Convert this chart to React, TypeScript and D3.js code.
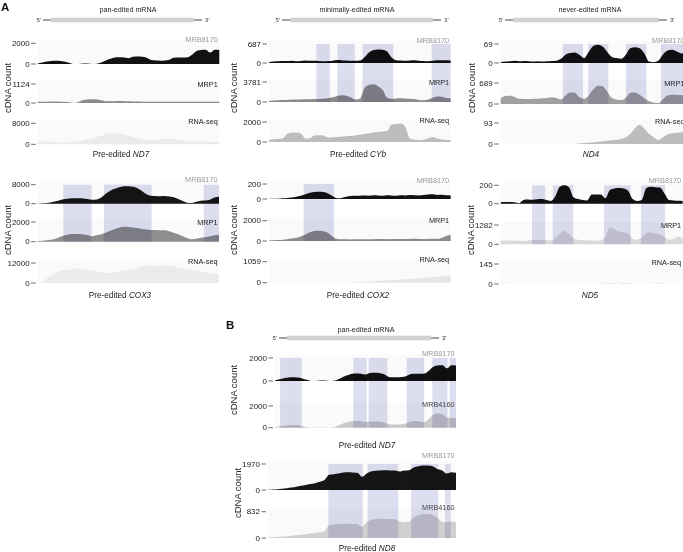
import React from "react";
import * as d3 from "d3";

// sample grid along each transcript, in % of the plotted length
const bins = d3.range(0, 100.01, 2.5);

// ---- read-off coverage values (41 samples each) ----
const nd7_mrb8170 = [50,150,250,300,320,300,220,100,0,0,50,40,0,20,150,350,500,640,650,620,560,690,720,700,600,380,330,320,340,420,600,640,620,650,900,1250,1350,1380,1100,1380,1350];
const nd7_mrp1 = [80,80,80,90,90,80,70,40,0,60,180,210,215,200,160,110,100,110,120,110,100,90,90,80,80,70,70,80,80,70,70,70,70,70,80,80,80,70,70,80,80];
const nd7_rnaseq = [900,1000,1100,1000,900,800,800,900,1000,1200,1500,1900,2300,2800,3300,3800,4100,4200,4100,3800,3300,2800,2300,1900,1600,1500,1600,1800,2000,2100,2000,1800,1500,1300,1200,1100,1100,1000,900,900,900];
const nd7_mrb4160 = [50,120,180,230,250,230,150,40,10,10,10,10,20,50,200,380,520,600,620,600,520,560,580,560,480,350,300,300,320,420,580,620,560,500,800,1200,1300,1250,950,900,870];

const cyb_mrb8170 = [30,50,60,70,70,80,60,70,90,80,80,70,60,70,80,110,100,90,80,80,90,200,380,470,490,480,420,200,100,90,80,90,100,80,70,60,80,95,100,95,90];
const cyb_mrp1 = [250,300,350,380,400,420,450,480,500,520,550,580,620,700,900,1150,1270,1200,900,450,600,2600,3200,3350,3000,2300,800,600,650,700,680,620,550,400,330,450,800,1050,1000,750,650];
const cyb_rnaseq = [250,280,300,350,800,950,950,850,350,380,650,680,650,450,480,500,550,580,600,650,720,800,850,950,1000,1050,1100,1750,1800,1850,1500,350,250,200,220,350,500,350,250,200,200];

const nd4_mrb8170 = [3,5,6,8,6,7,6,5,6,5,6,7,8,15,30,36,38,30,18,40,62,66,60,40,22,18,15,30,54,57,54,35,5,3,8,30,45,48,42,35,34];
const nd4_mrp1 = [180,260,270,230,170,165,160,170,175,185,200,220,200,150,280,380,370,220,170,280,480,600,580,400,200,150,130,200,370,380,300,180,100,50,30,150,280,300,300,290,300];
const nd4_rnaseq = [0,0,0,0,0,0,0,0,0,0,0,0,0,0,0,0,0,2,4,6,8,10,12,14,17,19,22,30,45,70,85,68,45,30,18,30,42,48,50,52,52];

const cox3_mrb8170 = [50,150,300,600,1000,1600,2000,2200,2300,2300,2200,2000,1700,1800,2600,4200,5500,6300,6900,7300,7400,7100,6500,5400,4000,3300,3200,3100,3200,3000,2700,2000,1100,400,300,800,1200,1300,1700,2600,2900];
const cox3_mrp1 = [60,100,150,200,300,500,650,750,770,770,740,680,550,650,750,900,1100,1300,1450,1520,1500,1450,1380,1300,1250,1200,1200,1150,1150,1050,900,750,550,350,250,300,400,450,550,650,700];
const cox3_rnaseq = [0,500,2500,4500,6000,7000,7500,8000,8500,8800,8500,8000,7500,7000,6500,6000,6000,6500,7000,7500,8000,8500,9000,9800,10500,10300,10000,10300,10800,10500,10000,9500,9000,8500,8000,7500,7000,6500,6000,5500,5000];

const cox2_mrb8170 = [0,2,5,10,15,20,30,45,65,85,95,98,92,75,40,10,15,30,40,45,45,48,45,50,48,45,50,48,45,50,48,52,50,48,55,60,62,55,58,50,48];
const cox2_mrp1 = [60,80,100,130,180,250,330,450,650,850,980,1010,950,800,450,200,180,170,160,170,180,170,175,180,190,185,180,190,200,195,190,200,210,200,190,200,220,210,300,500,580];
const cox2_rnaseq = [0,0,0,0,0,0,0,0,0,0,0,0,0,0,0,0,0,0,5,15,30,45,60,75,90,105,120,140,150,165,180,195,210,225,245,260,280,300,320,345,370];

const nd5_mrb8170 = [15,18,18,15,5,40,45,42,48,50,40,30,80,185,200,180,70,50,40,35,100,100,100,60,150,165,170,165,140,50,30,40,170,185,180,175,110,40,35,32,30];
const nd5_mrp1 = [230,250,260,240,230,220,240,280,290,300,280,260,400,700,880,700,400,300,280,260,250,240,260,500,1100,1000,850,780,720,350,300,450,750,780,720,650,480,300,350,500,400];
const nd5_rnaseq = [5,3,0,0,0,0,0,0,0,0,0,0,0,0,0,0,0,0,0,0,0,0,0,4,5,2,0,5,4,0,0,0,0,0,3,4,0,0,0,0,0];

const nd8_mrb8170 = [10,30,60,100,140,190,250,320,380,450,520,620,750,1150,1200,1250,1320,1340,1330,1300,1000,1250,1420,1460,1480,1490,1480,1470,1400,1480,1500,1700,1800,1860,1850,1800,1600,1500,1250,1350,1300];
const nd8_mrb4160 = [10,20,30,45,55,70,85,100,120,140,160,185,210,400,430,440,450,450,445,440,350,500,580,600,610,600,600,590,520,500,520,650,720,760,760,730,650,520,500,520,500];

// highlighted regions, % of plotted length
const cybBands = [[26.1,33.5],[37.7,47.2],[51.5,68.4],[89.5,100]];
const nd4Bands = [[33.5,44.4],[47.2,58.1],[67.6,78.6],[86.5,100]];
const cox3Bands = [[14.1,29.7],[36.5,62.8],[91.6,100]];
const cox2Bands = [[19.1,35.8]];
const nd5Bands = [[17.2,24.5],[28.6,39.9],[56.8,71.4],[77.1,90.3]];
const nd7bBands = [[2.8,14.7],[43.3,50.6],[51.8,62.1],[72.7,82.4],[86.9,95.3],[96.5,100]];
const nd8Bands = [[32.1,50.4],[53.0,69.3],[76.1,90.6],[94.1,97.2]];

const FONT = "'Liberation Sans', Arial, Helvetica, sans-serif";
const GREY_LBL = "#9a9a9a";

const tr = (label, tick, values, fill, tickY, baseY, labelColor = "#222", labelDy = 0) =>
  ({ label, tick, values, fill, tickY, baseY, labelColor, labelDy });

const panels = [
  {
    x0: 37.7, x1: 219.3, title: "pan-edited mRNA", titleX: 128, titleY: 12, gene: [7.3, 86.1], geneY: 20,
    ylabX: 7, ylabY: 88, caption: ["Pre-edited ", "ND7"], capX: 121, capY: 157, bands: [],
    tracks: [
      tr("MRB8170", 2000, nd7_mrb8170, "#111", 43.3, 64, GREY_LBL, -3.5),
      tr("MRP1", 1124, nd7_mrp1, "#8a8a8a", 84, 103),
      tr("RNA-seq", 8000, nd7_rnaseq, "#ebebeb", 123.3, 144.3, "#222", -2),
    ],
  },
  {
    x0: 269, x1: 450.7, title: "minimally-edited mRNA", titleX: 357, titleY: 12, gene: [11.6, 90.3], geneY: 20,
    ylabX: 233, ylabY: 88, caption: ["Pre-edited ", "CYb"], capX: 358, capY: 157, bands: cybBands,
    tracks: [
      tr("MRB8170", 687, cyb_mrb8170, "#111", 44, 63, GREY_LBL, -3.5),
      tr("MRP1", 3781, cyb_mrp1, "#8c8c8c", 82, 102),
      tr("RNA-seq", 2000, cyb_rnaseq, "#bdbdbd", 122, 142, "#222", -2),
    ],
  },
  {
    x0: 500.7, x1: 686, title: "never-edited mRNA", titleX: 590, titleY: 12, gene: [6.7, 85.4], geneY: 20,
    ylabX: 471, ylabY: 88, caption: ["", "ND4"], capX: 591, capY: 157, bands: nd4Bands,
    tracks: [
      tr("MRB8170", 69, nd4_mrb8170, "#111", 44, 63, GREY_LBL, -3.5),
      tr("MRP1", 689, nd4_mrp1, "#a0a0a0", 83, 104),
      tr("RNA-seq", 93, nd4_rnaseq, "#bdbdbd", 123, 144, "#222", -2),
    ],
  },
  {
    x0: 37.7, x1: 219, ylabX: 7, ylabY: 230, caption: ["Pre-edited ", "COX3"], capX: 120, capY: 298, bands: cox3Bands,
    tracks: [
      tr("MRB8170", 8000, cox3_mrb8170, "#161616", 184.7, 203.7, GREY_LBL, -5),
      tr("MRP1", 2000, cox3_mrp1, "#8e8e8e", 222, 241.7),
      tr("RNA-seq", 12000, cox3_rnaseq, "#ebebeb", 263, 283, "#222", -2),
    ],
  },
  {
    x0: 269, x1: 450.7, ylabX: 233, ylabY: 230, caption: ["Pre-edited ", "COX2"], capX: 358, capY: 298, bands: cox2Bands,
    tracks: [
      tr("MRB8170", 200, cox2_mrb8170, "#111", 184, 199, GREY_LBL, -4),
      tr("MRP1", 2000, cox2_mrp1, "#8c8c8c", 220.7, 241),
      tr("RNA-seq", 1059, cox2_rnaseq, "#e6e6e6", 261.7, 282.7, "#222", -2),
    ],
  },
  {
    x0: 500.7, x1: 682.7, ylabX: 470, ylabY: 230, caption: ["", "ND5"], capX: 590, capY: 298, bands: nd5Bands,
    tracks: [
      tr("MRB8170", 200, nd5_mrb8170, "#111", 185.3, 203.7, GREY_LBL, -5),
      tr("MRP1", 1282, nd5_mrp1, "#d9d9d9", 225, 244.3),
      tr("RNA-seq", 145, nd5_rnaseq, "#e2e2e2", 264, 284, "#222", -2),
    ],
  },
  {
    x0: 275, x1: 456, title: "pan-edited mRNA", titleX: 366, titleY: 332, gene: [6.6, 86.2], geneY: 338,
    ylabX: 233, ylabY: 390, caption: ["Pre-edited ", "ND7"], capX: 367, capY: 448, bands: nd7bBands,
    tracks: [
      tr("MRB8170", 2000, nd7_mrb8170, "#111", 358, 381, GREY_LBL, -5),
      tr("MRB4160", 2000, nd7_mrb4160, "#c9c9c9", 406, 427.7, "#444", -2),
    ],
  },
  {
    x0: 268, x1: 456, ylabX: 237, ylabY: 493, caption: ["Pre-edited ", "ND8"], capX: 367, capY: 551, bands: nd8Bands,
    tracks: [
      tr("MRB8170", 1970, nd8_mrb8170, "#161616", 464, 490, GREY_LBL, -9),
      tr("MRB4160", 832, nd8_mrb4160, "#d0d0d0", 511.7, 538, "#444", -4),
    ],
  },
];

function Panel({ p }) {
  const x = d3.scaleLinear().domain([0, 100]).range([p.x0, p.x1]);
  const bandTop = p.tracks[0].tickY;
  const bandBot = p.tracks[1].baseY;
  return (
    <g>
      {p.title && (
        <g>
          <text x={p.titleX} y={p.titleY} textAnchor="middle" fontSize={7.2} fill="#222">{p.title}</text>
          <line x1={x(p.gene[0]) - 8} x2={x(p.gene[1]) + 8} y1={p.geneY} y2={p.geneY} stroke="#444" strokeWidth={1} />
          <rect x={x(p.gene[0])} y={p.geneY - 2.3} width={x(p.gene[1]) - x(p.gene[0])} height={4.6} fill="#d2d2d2" />
          <text x={x(p.gene[0]) - 10} y={p.geneY + 2} textAnchor="end" fontSize={6} fill="#333">5′</text>
          <text x={x(p.gene[1]) + 11} y={p.geneY + 2} fontSize={6} fill="#333">3′</text>
        </g>
      )}
      {p.tracks.map((t, i) => {
        const y = d3.scaleLinear().domain([0, t.tick]).range([t.baseY, t.tickY]);
        const area = d3.area<number>()
          .x((d, j) => x(bins[j]))
          .y0(t.baseY)
          .y1((d) => y(d))
          .curve(d3.curveMonotoneX);
        return (
          <g key={i}>
            <rect x={p.x0} y={t.tickY - 3} width={p.x1 - p.x0} height={t.baseY - t.tickY + 3} fill="#fafafa" />
            <path d={area(t.values) || ""} fill={t.fill} />
          </g>
        );
      })}
      {p.bands.map((b, i) => (
        <rect key={i} x={x(b[0])} y={bandTop} width={x(b[1]) - x(b[0])} height={bandBot - bandTop}
          fill="#dedef1" style={{ mixBlendMode: "multiply" }} />
      ))}
      {p.tracks.map((t, i) => {
        const y = d3.scaleLinear().domain([0, t.tick]).range([t.baseY, t.tickY]);
        return (
          <g key={"ax" + i} fontSize={8} fill="#222">
            {[0, t.tick].map((v) => (
              <g key={v}>
                <line x1={p.x0 - 6.5} x2={p.x0 - 2} y1={y(v)} y2={y(v)} stroke="#444" strokeWidth={0.8} />
                <text x={p.x0 - 8} y={y(v)} textAnchor="end" dominantBaseline="central">{v}</text>
              </g>
            ))}
            <text x={p.x1 - 1.5} y={t.tickY + t.labelDy} textAnchor="end" dominantBaseline="central"
              fontSize={7.3} fill={t.labelColor}>{t.label}</text>
          </g>
        );
      })}
      <text transform={`translate(${p.ylabX},${p.ylabY}) rotate(-90)`} textAnchor="middle"
        dominantBaseline="central" fontSize={9.5} fill="#222">cDNA count</text>
      <text x={p.capX} y={p.capY} textAnchor="middle" fontSize={8.2} fill="#222">
        {p.caption[0]}<tspan fontStyle="italic">{p.caption[1]}</tspan>
      </text>
    </g>
  );
}

export default function App() {
  return (
    <svg width={683} height={552} style={{ position: "absolute", left: 0, top: 0, background: "#fff" }}
      fontFamily={FONT}>
      <text x={1} y={11} fontSize={11.5} fontWeight="bold" fill="#111">A</text>
      <text x={226} y={329} fontSize={11.5} fontWeight="bold" fill="#111">B</text>
      {panels.map((p, i) => <Panel key={i} p={p} />)}
    </svg>
  );
}
